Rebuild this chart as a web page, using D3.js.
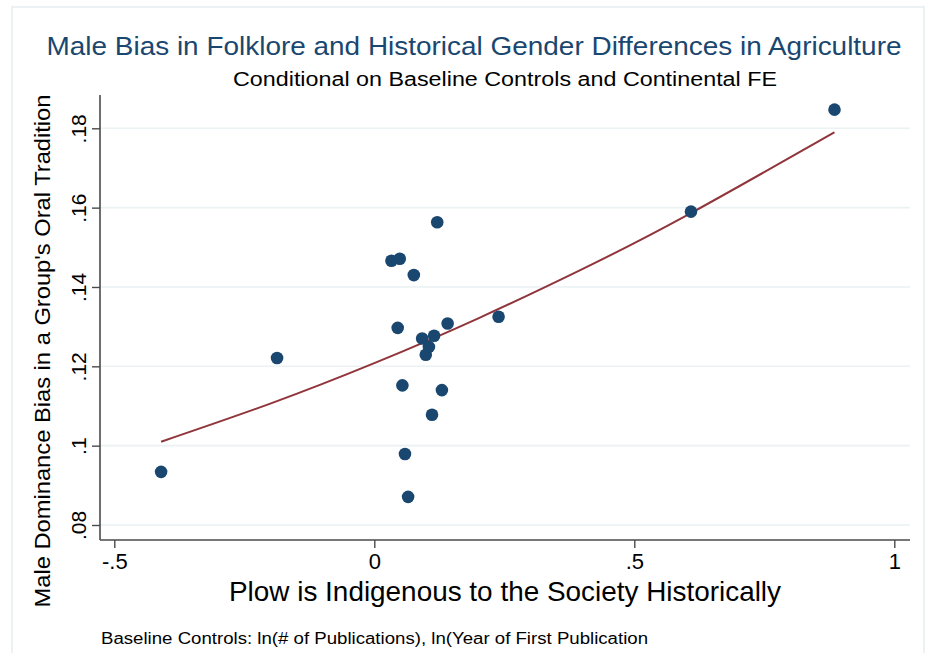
<!DOCTYPE html>
<html>
<head>
<meta charset="utf-8">
<script src="https://cdn.jsdelivr.net/npm/d3@7"></script>
<style>
  body { margin: 0; background: #fff; }
  text { font-family: "Liberation Sans", Arial, sans-serif; }
</style>
</head>
<body>
<svg width="932" height="653"></svg>
<script>
// Plow (residual) on x, male dominance bias (residual) on y
var plow = [-0.410, -0.187, 0.033, 0.049, 0.076, 0.121, 0.045, 0.092, 0.115, 0.141,
            0.105, 0.099, 0.054, 0.130, 0.111, 0.059, 0.065, 0.239, 0.609, 0.885];
var bias = [0.0934, 0.1221, 0.1466, 0.1471, 0.1430, 0.1563, 0.1297, 0.1270, 0.1277, 0.1308,
            0.1249, 0.1229, 0.1152, 0.1140, 0.1078, 0.0979, 0.0871, 0.1325, 0.1590, 0.1847];

// fitted line
var fitX = [-0.41, -0.2, 0, 0.2, 0.4, 0.6, 0.885];
var fitY = [0.1010, 0.1106, 0.1208, 0.1321, 0.1445, 0.1580, 0.1790];

var xTicks = [-0.5, 0, 0.5, 1];
var xTickLabels = ["-.5", "0", ".5", "1"];
var yTicks = [0.08, 0.1, 0.12, 0.14, 0.16, 0.18];
var yTickLabels = [".08", ".1", ".12", ".14", ".16", ".18"];

var svg = d3.select("svg");

// faint outer frame
svg.append("rect")
  .attr("x", 12).attr("y", 7)
  .attr("width", 912).attr("height", 660)
  .attr("fill", "none")
  .attr("stroke", "#e6edf1")
  .attr("stroke-width", 1.5);

var plotLeft = 100, plotRight = 910, plotTop = 95, plotBottom = 540;

var x = d3.scaleLinear().domain([-0.5, 1]).range([114.3, 894.3]);
var y = d3.scaleLinear().domain([0.08, 0.18]).range([525, 128.3]);

// grid lines
svg.append("g").selectAll("line")
  .data(yTicks)
  .enter()
  .append("line")
  .attr("x1", plotLeft).attr("x2", plotRight)
  .attr("y1", function(d) { return y(d); })
  .attr("y2", function(d) { return y(d); })
  .attr("stroke", "#eaf2f3")
  .attr("stroke-width", 1.6);

// axes
var xAxis = d3.axisBottom(x)
  .tickValues(xTicks)
  .tickFormat(function(d, i) { return xTickLabels[i]; })
  .tickSize(8)
  .tickSizeOuter(0)
  .tickPadding(5);

var gx = svg.append("g")
  .attr("transform", "translate(0," + plotBottom + ")")
  .call(xAxis);
gx.select(".domain").attr("d", "M" + plotLeft + ",0H" + plotRight);
gx.selectAll("line").attr("stroke", "#4a4a4a").attr("stroke-width", 1.4);
gx.select(".domain").attr("stroke", "#4a4a4a").attr("stroke-width", 1.6);
gx.selectAll("text")
  .attr("font-size", 22)
  .attr("fill", "#000")
  .attr("font-family", "Liberation Sans, Arial, sans-serif");

var yAxis = d3.axisLeft(y)
  .tickValues(yTicks)
  .tickFormat(function(d, i) { return yTickLabels[i]; })
  .tickSize(8)
  .tickSizeOuter(0);

var gy = svg.append("g")
  .attr("transform", "translate(" + plotLeft + ",0)")
  .call(yAxis);
gy.select(".domain").attr("d", "M0," + plotTop + "V" + plotBottom);
gy.selectAll("line").attr("stroke", "#4a4a4a").attr("stroke-width", 1.4);
gy.select(".domain").attr("stroke", "#4a4a4a").attr("stroke-width", 1.6);
gy.selectAll("text")
  .attr("font-size", 21)
  .attr("fill", "#000")
  .attr("font-family", "Liberation Sans, Arial, sans-serif")
  .attr("text-anchor", "middle")
  .attr("dy", null)
  .attr("x", null)
  .attr("transform", "translate(-21,0) rotate(-90)")
  .attr("y", 7);

// fitted curve
var line = d3.line()
  .x(function(d) { return x(d[0]); })
  .y(function(d) { return y(d[1]); })
  .curve(d3.curveNatural);

svg.append("path")
  .datum(d3.zip(fitX, fitY))
  .attr("d", line)
  .attr("fill", "none")
  .attr("stroke", "#90353b")
  .attr("stroke-width", 2);

// points
svg.append("g").selectAll("circle")
  .data(d3.zip(plow, bias))
  .enter()
  .append("circle")
  .attr("cx", function(d) { return x(d[0]); })
  .attr("cy", function(d) { return y(d[1]); })
  .attr("r", 6.3)
  .attr("fill", "#1a476f");

// titles
svg.append("text")
  .attr("x", 474).attr("y", 55)
  .attr("text-anchor", "middle")
  .attr("font-size", 26)
  .attr("fill", "#1a476f")
  .attr("textLength", 855)
  .attr("lengthAdjust", "spacingAndGlyphs")
  .text("Male Bias in Folklore and Historical Gender Differences in Agriculture");

svg.append("text")
  .attr("x", 505).attr("y", 86)
  .attr("text-anchor", "middle")
  .attr("font-size", 20)
  .attr("fill", "#000")
  .attr("textLength", 544)
  .attr("lengthAdjust", "spacingAndGlyphs")
  .text("Conditional on Baseline Controls and Continental FE");

svg.append("text")
  .attr("x", 505).attr("y", 601)
  .attr("text-anchor", "middle")
  .attr("font-size", 28)
  .attr("fill", "#000")
  .attr("textLength", 552)
  .attr("lengthAdjust", "spacingAndGlyphs")
  .text("Plow is Indigenous to the Society Historically");

svg.append("text")
  .attr("transform", "translate(50,351) rotate(-90)")
  .attr("text-anchor", "middle")
  .attr("font-size", 22)
  .attr("fill", "#000")
  .attr("textLength", 513)
  .attr("lengthAdjust", "spacingAndGlyphs")
  .text("Male Dominance Bias in a Group's Oral Tradition");

svg.append("text")
  .attr("x", 101).attr("y", 644)
  .attr("font-size", 16)
  .attr("fill", "#000")
  .attr("textLength", 547)
  .attr("lengthAdjust", "spacingAndGlyphs")
  .text("Baseline Controls: ln(# of Publications), ln(Year of First Publication");
</script>
</body>
</html>
